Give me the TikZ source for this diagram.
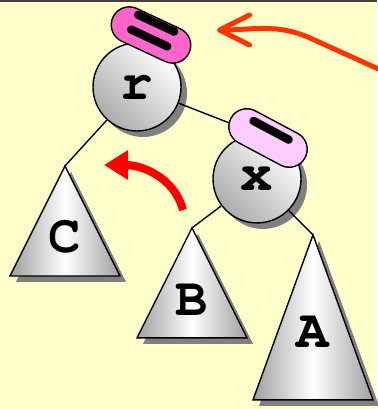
\documentclass[tikz,border=0pt]{standalone}
\usepackage{fontspec}
\newfontfamily\treefont{texgyrecursor}[Extension=.otf, UprightFont=*-regular, BoldFont=*-bold]
\usetikzlibrary{shapes.misc,shadows,arrows.meta,positioning}
\definecolor{paper}{HTML}{FFFFCC}
\definecolor{balhi}{HTML}{FF66CC}
\definecolor{ballo}{HTML}{FFCCFF}
\definecolor{rotred}{HTML}{FF0000}
\definecolor{hintred}{HTML}{FF3300}
\tikzset{
    castshadow/.style={drop shadow={shadow xshift=6pt, shadow yshift=-6pt, fill=gray, opacity=1}},
    vertex/.style={circle, draw, line width=1.4pt, minimum size=88pt, inner sep=0pt,
        top color=white, bottom color=gray!65, shading angle=-45, castshadow,
        font=\treefont\bfseries\fontsize{54}{54}\selectfont},
    subtree/.style={draw, line width=1.4pt, left color=gray!75, right color=gray!75,
        middle color=white, castshadow},
    tlabel/.style={font=\treefont\bfseries\fontsize{54}{54}\selectfont, inner sep=0pt},
    balance/.style={rounded rectangle, draw, line width=1.4pt, minimum width=84pt,
        minimum height=36pt, inner sep=0pt, transform shape,
        font=\treefont\bfseries\fontsize{84}{84}\selectfont},
    edge/.style={line width=1.4pt}
}
\begin{document}
\begin{tikzpicture}[x=1pt, y=1pt]
        \fill[paper] (0,0) rectangle (377,409);
        \useasboundingbox (0,0) rectangle (377,409);
        \draw[black!75, line width=2pt] (0,408) -- (377,408);

        \node [vertex] (r) at (137,322) {r};
        \node [vertex, below of=r, xshift = 120, yshift = -63.5] (x) {\raisebox{-5pt}{x}};

        \begin{scope}[rotate around={-25:(151,374)}]
        \node [balance, fill=balhi] (rbal) at (151,374) {=};
        \end{scope}
        \begin{scope}[rotate around={-28:(268,271)}]
        \node [balance, fill=ballo] (xbal) at (268,271) {−};
        \end{scope}

        \coordinate [below of=r, xshift = -72, yshift = -50.5] (Ctop);
        \coordinate [below of=x, xshift = -65, yshift = -20.5] (Btop);
        \coordinate [below of=x, xshift = 56, yshift = -27.5] (Atop);

        \draw[subtree] (Ctop) -- ++(-55,-110) -- ++(110,0) -- cycle;
        \draw[subtree] (Btop) -- ++(-55,-110) -- ++(110,0) -- cycle;
        \draw[subtree] (Atop) -- ++(-60,-165) -- ++(120,0) -- cycle;

        \node [tlabel, below of=Ctop, yshift = -42.5] (C) {C};
        \node [tlabel, below of=Btop, yshift = -43.5] (B) {B};
        \node [tlabel, below of=Atop, yshift = -68.5] (A) {A};

        \draw[edge] (r) -- (Ctop);
        \draw[edge] (r) -- (xbal);
        \draw[edge] (x) -- (Btop);
        \draw[edge] (x) -- (Atop);

        \coordinate (rotfrom) at (183,199);
        \coordinate (rotto) at (104,244);
        \draw[rotred, line width=8pt, -{Triangle[length=24pt, width=28pt]}]
            (rotfrom) to[out=105, in=0] (rotto);

        \coordinate (hintfrom) at (385,337);
        \coordinate (hintbend) at (310,371);
        \coordinate (hintto) at (217,379);
        \draw[hintred, line width=5pt, line cap=round,
            -{Straight Barb[length=30pt, width=30pt, round]}]
            (hintfrom) -- (hintbend) to[out=156, in=0] (hintto);
\end{tikzpicture}
\end{document}
